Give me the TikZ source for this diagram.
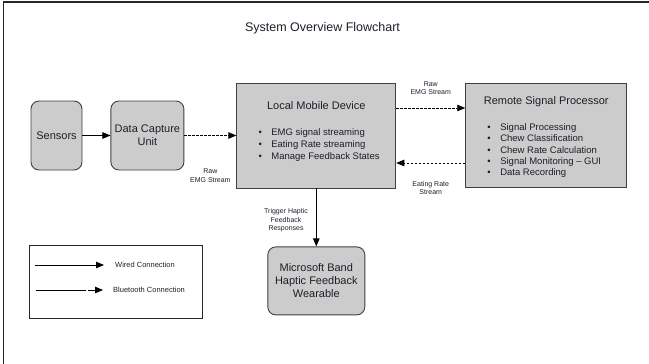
\documentclass[tikz,border=0pt]{standalone}
\usepackage{fontspec}
\setmainfont{Liberation Sans}
\usetikzlibrary{positioning,arrows.meta}
\definecolor{boxfill}{RGB}{204,204,204}
\definecolor{boxline}{RGB}{64,64,64}
\definecolor{inktext}{RGB}{30,30,42}
\newcommand{\itm}[1]{\textbullet\hspace{9.5pt}#1}
\tikzset{
  block/.style={draw=boxline, fill=boxfill, line width=0.9pt, inner sep=0pt, align=center, text=inktext, font=\fontsize{11}{13}\selectfont},
  roundblock/.style={block, rounded corners=8pt},
  blocktitle/.style={inner sep=0pt, text=inktext, font=\fontsize{11}{13}\selectfont},
  itemlist/.style={inner sep=0pt, align=left, text=inktext, anchor=north west},
  flowlabel/.style={inner sep=0pt, align=center, text=inktext, font=\fontsize{7}{8.5}\selectfont},
  wired/.style={line width=0.8pt, -{Triangle[length=8pt,width=6.5pt]}},
  bluetooth/.style={wired, dash pattern=on 2.5pt off 1.5pt}
}
\begin{document}
\begin{tikzpicture}[x=1pt,y=-1pt]
\useasboundingbox (0,0) rectangle (649,364);
\draw[line width=1.2pt, black!85] (649,2) -- (3.5,2) -- (3.5,364);
\node[inner sep=0pt, text=inktext, font=\fontsize{12.5}{14}\selectfont] (title) at (322.5,28) {System Overview Flowchart};
% main blocks
\node[roundblock, minimum width=51pt, minimum height=69pt] (sensors) at (56.5,135.5) {Sensors};
\node[roundblock, minimum width=73pt, minimum height=69pt, right=28pt of sensors] (dcu) {Data Capture\\Unit};
\node[block, minimum width=159pt, minimum height=105pt, right=52pt of dcu] (lmd) {};
\node[block, minimum width=161pt, minimum height=104pt, right=69pt of lmd] (rsp) {};
\node[roundblock, minimum width=97pt, minimum height=68pt, below=58pt of lmd] (wearable) {Microsoft Band\\Haptic Feedback\\Wearable};
% block contents
\node[blocktitle] (lmdtitle) at ([yshift=-23pt]lmd.north) {Local Mobile Device};
\node[itemlist, font=\fontsize{9.5}{12}\selectfont] (lmditems) at ([xshift=22pt,yshift=-45.5pt]lmd.north west)
  {\itm{EMG signal streaming}\\\itm{Eating Rate streaming}\\\itm{Manage Feedback States}};
\node[blocktitle] (rsptitle) at ([yshift=-19pt]rsp.north) {Remote Signal Processor};
\node[itemlist, font=\fontsize{9.5}{11.3}\selectfont] (rspitems) at ([xshift=22pt,yshift=-40.5pt]rsp.north west)
  {\itm{Signal Processing}\\\itm{Chew Classification}\\\itm{Chew Rate Calculation}\\\itm{Signal Monitoring -- GUI}\\\itm{Data Recording}};
% connections
\draw[wired] (sensors) -- (dcu);
\draw[bluetooth] (dcu) -- node[flowlabel, below=33pt] (rawlbla) {Raw\\EMG Stream} (lmd);
\draw[bluetooth] ([yshift=27.5pt]lmd.east) -- node[flowlabel, above=13pt] (rawlblb) {Raw\\EMG Stream} ([yshift=27.5pt]lmd.east -| rsp.west);
\draw[bluetooth] ([yshift=-27.5pt]lmd.east -| rsp.west) -- node[flowlabel, below=18pt] (eatlbl) {Eating Rate\\Stream} ([yshift=-27.5pt]lmd.east);
\draw[wired] (lmd) -- node[flowlabel, left=8pt, yshift=-3pt] (triglbl) {Trigger Haptic\\Feedback\\Responses} (wearable);
% legend
\node[draw=black!85, line width=0.9pt, minimum width=173pt, minimum height=73pt, inner sep=0pt] (legend) at (115.5,281.5) {};
\coordinate (wiredstart) at (35,265);
\coordinate (wiredend) at (104,265);
\coordinate (btstart) at (36,290);
\coordinate (btend) at (103,290);
\node[flowlabel, anchor=west, font=\fontsize{7.5}{9}\selectfont] (wiredtxt) at (115,265) {Wired Connection};
\node[flowlabel, anchor=west, font=\fontsize{7.5}{9}\selectfont] (bttxt) at (113,290) {Bluetooth Connection};
\draw[wired] (wiredstart) -- (wiredend);
\draw[wired, dash pattern=on 50pt off 1.5pt on 20pt] (btstart) -- (btend);
\end{tikzpicture}
\end{document}
